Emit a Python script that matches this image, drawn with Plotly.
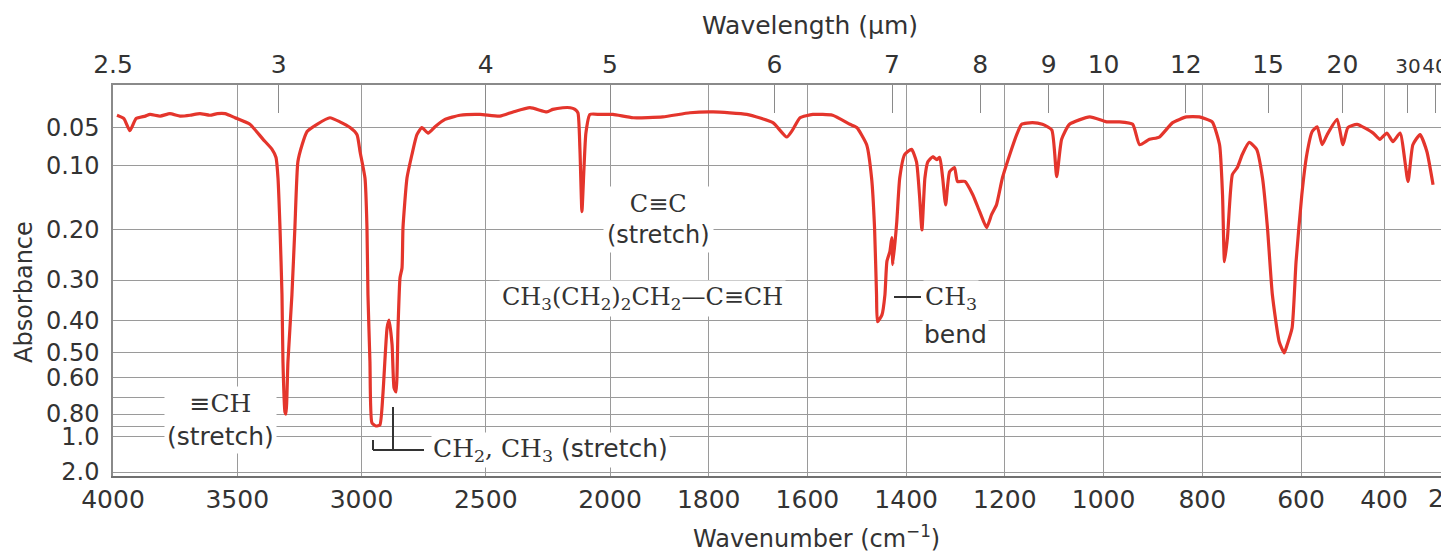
import numpy as np
import plotly.graph_objects as go

# ---------------- data ----------------
WAVENUMBER = [3984, 3956, 3932, 3907, 3870, 3851, 3810, 3771, 3730, 3690, 3650, 3610, 3580, 3549,
              3509, 3449, 3396, 3360, 3344, 3336, 3328, 3320, 3316, 3308, 3304, 3296, 3280, 3268,
              3256, 3239, 3219, 3179, 3127, 3087, 3046, 3018, 3006, 2986, 2978, 2974, 2966, 2958,
              2942, 2926, 2914, 2897, 2889, 2877, 2869, 2861, 2853, 2845, 2837, 2833, 2817, 2797,
              2777, 2757, 2732, 2704, 2664, 2604, 2523, 2443, 2390, 2322, 2254, 2230, 2190, 2160,
              2141, 2129, 2121, 2113, 2105, 2097, 2081, 2040, 1994, 1953, 1893, 1838, 1791, 1723,
              1670, 1642, 1630, 1615, 1589, 1549, 1514, 1500, 1480, 1470, 1464, 1460, 1458, 1449,
              1443, 1439, 1433, 1429, 1427, 1419, 1413, 1403, 1389, 1379, 1373, 1368, 1362, 1356,
              1346, 1338, 1332, 1326, 1320, 1312, 1302, 1296, 1281, 1265, 1251, 1237, 1227, 1217,
              1205, 1190, 1176, 1166, 1144, 1124, 1105, 1095, 1085, 1069, 1028, 994, 968, 941,
              927, 907, 887, 860, 832, 806, 780, 765, 759, 755, 749, 739, 729, 719, 705, 690,
              678, 668, 658, 644, 634, 628, 618, 610, 598, 586, 573, 561, 549, 537, 513, 499,
              487, 465, 426, 410, 392, 375, 355, 333, 318, 296, 275, 256]
ABSORBANCE = [0.035, 0.039, 0.054, 0.039, 0.036, 0.034, 0.036, 0.033, 0.036, 0.035, 0.033, 0.035, 0.033, 0.033,
              0.038, 0.046, 0.065, 0.078, 0.089, 0.118, 0.197, 0.334, 0.535, 0.786, 0.800, 0.535, 0.334, 0.197,
              0.095, 0.072, 0.055, 0.046, 0.038, 0.043, 0.050, 0.059, 0.081, 0.118, 0.197, 0.334, 0.535, 0.867,
              0.893, 0.884, 0.683, 0.421, 0.399, 0.474, 0.647, 0.668, 0.421, 0.295, 0.274, 0.197, 0.118, 0.085,
              0.059, 0.050, 0.057, 0.049, 0.040, 0.035, 0.034, 0.036, 0.031, 0.026, 0.031, 0.028, 0.026, 0.026,
              0.028, 0.032, 0.078, 0.170, 0.106, 0.057, 0.034, 0.034, 0.034, 0.038, 0.037, 0.032, 0.031, 0.034,
              0.044, 0.062, 0.053, 0.038, 0.034, 0.035, 0.046, 0.050, 0.072, 0.118, 0.197, 0.334, 0.404, 0.385,
              0.334, 0.261, 0.241, 0.215, 0.267, 0.187, 0.118, 0.085, 0.078, 0.095, 0.143, 0.201, 0.118, 0.095,
              0.088, 0.092, 0.089, 0.118, 0.159, 0.109, 0.103, 0.123, 0.123, 0.143, 0.170, 0.197, 0.175, 0.159,
              0.118, 0.085, 0.059, 0.046, 0.044, 0.046, 0.053, 0.116, 0.065, 0.046, 0.037, 0.043, 0.043, 0.046,
              0.072, 0.065, 0.062, 0.044, 0.037, 0.037, 0.043, 0.072, 0.143, 0.261, 0.215, 0.113, 0.103, 0.085, 0.069, 0.078,
              0.118, 0.197, 0.334, 0.465, 0.502, 0.474, 0.421, 0.261, 0.143, 0.085, 0.055, 0.049, 0.072, 0.059, 0.040, 0.072,
              0.050, 0.046, 0.057, 0.065, 0.057, 0.068, 0.057, 0.123, 0.072, 0.059, 0.081, 0.128]

WN_TICKS = [4000, 3500, 3000, 2500, 2000, 1800, 1600, 1400, 1200, 1000, 800, 600, 400]
WL_TICKS = [2.5, 3, 4, 5, 6, 7, 8, 9, 10, 12, 15, 20, 30, 40]
WL_LABELS = ["2.5", "3", "4", "5", "6", "7", "8", "9", "10", "12", "15", "20", "30", "40"]
ABS_TICKS = [0.05, 0.1, 0.2, 0.3, 0.4, 0.5, 0.6, 0.7, 0.8, 0.9, 1.0, 2.0]
ABS_LABELS = ["0.05", "0.10", "0.20", "0.30", "0.40", "0.50", "0.60", " ", "0.80", " ", "1.0", "2.0"]

# ---------------- chart scale (piecewise wavenumber axis, as on the chart paper) ----------------
W, H = 1441, 557
L, R, T, B = 113, 1441, 85, 476          # plot area in pixels
SCALE_WN = [4000, 2000, 600, 400, 333, 250, 200]
SCALE_U = [113, 610, 1301, 1384, 1408, 1435, 1452]


def u_of_wn(wn):
    return np.interp(-np.asarray(wn, float), -np.asarray(SCALE_WN, float), SCALE_U)


def trans(a):
    return 10.0 ** (-np.asarray(a, float))


def xp(px):
    return (px - L) / (R - L)


def yp(py):
    return (B - py) / (B - T)


SANS = "DejaVu Sans"
SERIF = "DejaVu Serif"
TXT = "#333333"
GRID = "#9a9a9a"

# small labels for the crowded far-right wavelength ticks
wl_text = [t if t not in ("30", "40") else f"<span style='font-size:20px'>{t}</span>" for t in WL_LABELS]

fig = go.Figure()
fig.add_trace(go.Scatter(
    x=u_of_wn(WAVENUMBER), y=trans(ABSORBANCE), mode="lines",
    line=dict(color="#e4352c", width=3.2, shape="spline", smoothing=0.5),
    hoverinfo="skip", showlegend=False))
# invisible trace so the top (wavelength) axis is drawn
fig.add_trace(go.Scatter(x=[L, R], y=[0.5, 0.5], xaxis="x2", mode="lines",
                         line=dict(width=0), opacity=0, hoverinfo="skip", showlegend=False))

fig.update_layout(
    width=W, height=H,
    margin=dict(l=L, r=W - R, t=T, b=H - B, pad=0, autoexpand=False),
    paper_bgcolor="white", plot_bgcolor="white",
    font=dict(family=SANS, size=25, color=TXT),
    xaxis=dict(range=[L, R], tickvals=list(u_of_wn(WN_TICKS)),
               ticktext=[str(v) for v in WN_TICKS], tickangle=0, automargin=False,
               showgrid=True, gridcolor=GRID, gridwidth=1, zeroline=False,
               showline=True, linecolor="#707070", linewidth=2,
               ticks="", ticklabelstandoff=0, ticklabeloverflow="allow",
               tickfont=dict(family=SANS, size=25, color=TXT)),
    xaxis2=dict(range=[L, R], overlaying="x", side="top", anchor="y",
                tickvals=list(u_of_wn(10000.0 / np.array(WL_TICKS))), ticktext=wl_text,
                tickangle=0, automargin=False,
                ticks="inside", ticklen=28, tickwidth=1, tickcolor="#8a8a8a",
                showgrid=False, zeroline=False, showline=True, linecolor="#8a8a8a", linewidth=1.5,
                ticklabelstandoff=0, ticklabeloverflow="allow",
                tickfont=dict(family=SANS, size=25, color=TXT)),
    yaxis=dict(range=[0, 1], tickvals=list(trans(ABS_TICKS)), ticktext=ABS_LABELS, automargin=False,
               showgrid=True, gridcolor=GRID, gridwidth=1, zeroline=False,
               showline=True, linecolor="#8a8a8a", linewidth=1.5,
               ticks="", ticklabelstandoff=7, tickfont=dict(family=SANS, size=24, color=TXT)),
)


def label(text, x, y, size=25, family=SANS, xanchor="center", bg=None, pad=1, angle=0):
    d = dict(text=text, x=xp(x), y=yp(y), xref="paper", yref="paper", showarrow=False,
             xanchor=xanchor, yanchor="middle", textangle=angle, borderpad=pad,
             font=dict(family=family, size=size, color=TXT))
    if bg:
        d["bgcolor"] = bg
    return d


ann = [
    # axis titles
    label("Wavelength (μm)", 810, 25),
    label("Wavenumber (cm<sup>−1</sup>)", 816, 537, size=24),
    label("Absorbance", 24, 292, size=24, angle=-90),
    label("200", 1452, 498),
    # peak labels
    label(f"<span style='font-family:{SERIF}'>≡CH</span><br>(stretch)", 220, 420, bg="white", pad=2),
    label(f"<span style='font-family:{SERIF}'>CH<sub>2</sub>, CH<sub>3</sub></span> (stretch)",
          431, 450, xanchor="left", bg="white"),
    label(f"<span style='font-family:{SERIF}'>C≡C</span><br>(stretch)", 658, 220, size=24, bg="white", pad=3),
    label("CH<sub>3</sub>(CH<sub>2</sub>)<sub>2</sub>CH<sub>2</sub>—C≡CH", 642, 298,
          size=24, family=SERIF, bg="white", pad=2),
    label("CH<sub>3</sub>", 923, 298, family=SERIF, xanchor="left", bg="white"),
    label("bend", 955, 334, bg="white"),
]
fig.update_layout(annotations=ann)

# leader lines
LINE = dict(color="#333333", width=2)
shapes = [
    dict(type="line", xref="paper", yref="paper", x0=xp(393), x1=xp(393), y0=yp(407), y1=yp(450), line=LINE),
    dict(type="line", xref="paper", yref="paper", x0=xp(373), x1=xp(424), y0=yp(450), y1=yp(450), line=LINE),
    dict(type="line", xref="paper", yref="paper", x0=xp(373), x1=xp(373), y0=yp(440), y1=yp(450), line=LINE),
    dict(type="line", xref="paper", yref="paper", x0=xp(894), x1=xp(921), y0=yp(297), y1=yp(297), line=LINE),
]
fig.update_layout(shapes=shapes)

fig.write_html("out.html")
